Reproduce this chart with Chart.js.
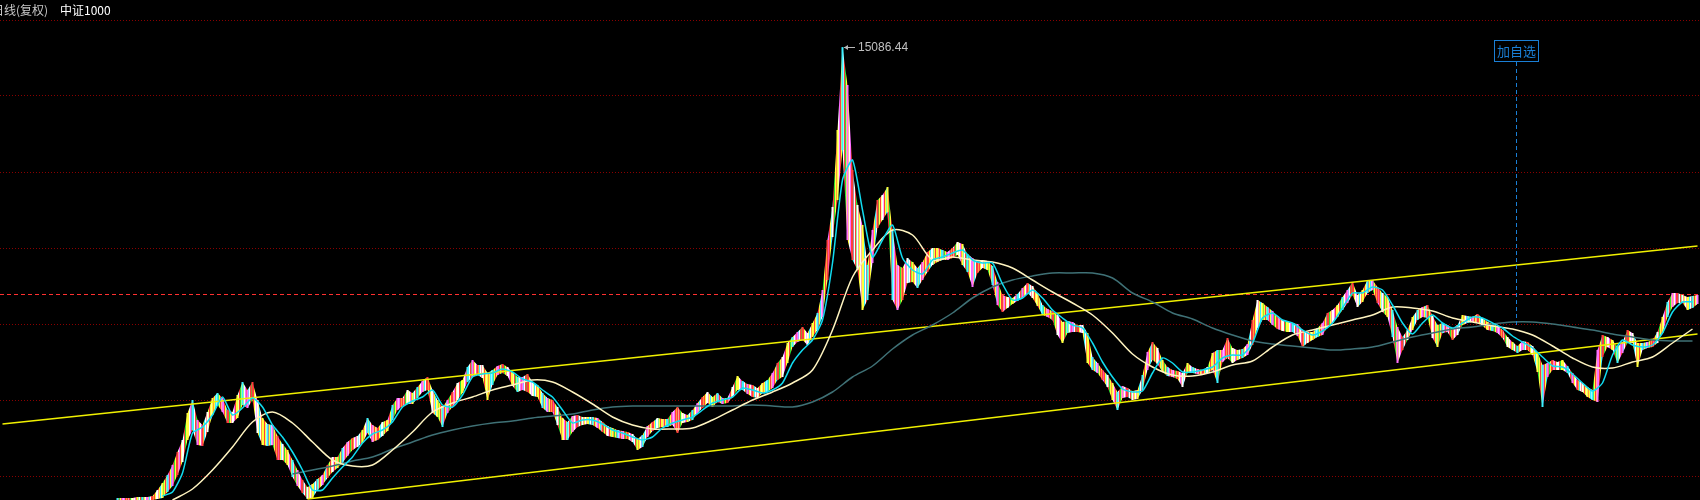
<!DOCTYPE html>
<html>
<head>
<meta charset="utf-8">
<script src="https://cdn.jsdelivr.net/npm/chart.js@4.4.0/dist/chart.umd.min.js"></script>
<style>
    html, body { margin: 0; padding: 0; background: #000; overflow: hidden; }
    .chart-container { position: relative; width: 1700px; height: 500px; }
</style>
</head>
<body>
<div class="chart-container"><canvas id="klineChart"></canvas></div>
<script>
(function() {
    // one slot = one sampled period on the daily chart
    const SLOTS = 340;
    const periods = Array.from({ length: SLOTS }, (_, i) => 'P' + (i + 1));

    // high / low of each sampled period, from slot 23 on
    const bandStart = 23;
    const highs = [
        1560, 1560, 1560, 1560, 1590, 1590, 1590, 1620, 1800, 2010,
        2250, 2550, 2940, 3300, 4110, 4500, 3900, 3750, 4140, 4560,
        4710, 4560, 4200, 4140, 4650, 5040, 4800, 5040, 4500, 3960,
        3780, 3750, 3420, 3180, 3000, 2700, 2400, 2100, 1890, 1980,
        2130, 2250, 2550, 2790, 2790, 3060, 3240, 3360, 3420, 3600,
        3960, 3750, 3660, 3840, 3900, 4350, 4560, 4560, 4800, 4710,
        4890, 5070, 5190, 4800, 4500, 4290, 4500, 4740, 5010, 5100,
        5490, 5700, 5550, 5550, 5310, 5400, 5520, 5580, 5490, 5340,
        5190, 5190, 5280, 5040, 4950, 4710, 4560, 4500, 4290, 3960,
        3840, 4020, 4050, 3990, 3990, 3990, 3960, 3840, 3720, 3660,
        3600, 3570, 3540, 3480, 3330, 3450, 3720, 3840, 3960, 3930,
        3930, 4140, 4290, 4110, 4050, 4200, 4410, 4590, 4740, 4590,
        4710, 4560, 4560, 4890, 5220, 5070, 4980, 4950, 4860, 5010,
        5100, 5310, 5610, 5790, 6210, 6390, 6540, 6690, 6510, 6810,
        7110, 7800, 9300, 10290, 12600, 15086.44, 13950, 11400, 10350, 9750,
        8550, 9600, 10500, 10650, 10890, 9600, 8550, 8460, 8760, 8640,
        8460, 8640, 8940, 9060, 9060, 9000, 8940, 9060, 9240, 9180,
        8880, 8760, 8640, 8700, 8670, 8520, 8040, 7650, 7590, 7560,
        7680, 7860, 8010, 7920, 7710, 7350, 7230, 7170, 7050, 6840,
        6870, 6840, 6750, 6750, 6510, 5790, 5610, 5400, 5250, 5010,
        4740, 4920, 4860, 4770, 4800, 5250, 5940, 6240, 6060, 5700,
        5490, 5400, 5370, 5310, 5610, 5490, 5430, 5400, 5490, 5910,
        6000, 6000, 6360, 6060, 6000, 6030, 6180, 6900, 7500, 7410,
        7290, 7170, 7020, 6900, 6840, 6810, 6780, 6600, 6540, 6540,
        6660, 6810, 7110, 7200, 7350, 7590, 7800, 8040, 7650, 7800,
        8100, 8100, 7890, 7710, 7590, 7200, 6690, 6390, 6600, 6990,
        7200, 7290, 7350, 7020, 6750, 6810, 6750, 6630, 6750, 7050,
        7020, 6990, 7080, 6960, 6840, 6780, 6720, 6600, 6390, 6240,
        6120, 6270, 6240, 6120, 5940, 5550, 5610, 5700, 5640, 5700,
        5520, 5310, 5100, 5010, 4890, 4800, 6000, 6450, 6390, 6300,
        6090, 6240, 6600, 6510, 6210, 6210, 6240, 6300, 6540, 6990,
        7440, 7710, 7710, 7650, 7590, 7620, 7650
    ];
    const lows = [
        1500, 1500, 1500, 1500, 1500, 1500, 1500, 1500, 1530, 1560,
        1740, 1920, 2250, 2640, 3300, 3600, 3150, 3120, 3540, 4050,
        4350, 4140, 3810, 3810, 3960, 4350, 4260, 4500, 3510, 3150,
        3120, 3150, 2700, 2700, 2550, 2190, 1920, 1710, 1530, 1560,
        1800, 1950, 2160, 2340, 2460, 2610, 2820, 3000, 3090, 3210,
        3510, 3240, 3300, 3420, 3570, 3900, 4200, 4320, 4380, 4380,
        4560, 4740, 4800, 4110, 3990, 3690, 4110, 4290, 4500, 4710,
        5040, 5190, 5250, 5160, 4500, 4950, 5250, 5310, 5220, 4920,
        4740, 4800, 4740, 4620, 4590, 4260, 4140, 4140, 3750, 3300,
        3300, 3540, 3690, 3750, 3780, 3750, 3660, 3540, 3420, 3390,
        3360, 3330, 3330, 3240, 3000, 3090, 3390, 3570, 3660, 3690,
        3690, 3750, 3510, 3810, 3840, 3900, 4110, 4260, 4410, 4290,
        4440, 4380, 4410, 4590, 4800, 4800, 4680, 4590, 4560, 4710,
        4740, 4860, 5100, 5190, 5610, 6090, 6240, 6300, 6150, 6390,
        6600, 6990, 8100, 9390, 10500, 12000, 9300, 8700, 8400, 7200,
        7500, 8610, 9660, 9900, 10140, 7500, 7200, 7500, 8010, 8040,
        7860, 8100, 8340, 8550, 8640, 8700, 8700, 8760, 8850, 8550,
        8340, 7890, 8310, 8460, 8400, 7950, 7350, 7140, 7260, 7380,
        7470, 7560, 7710, 7560, 7320, 7050, 6990, 6900, 6450, 6210,
        6510, 6540, 6540, 6510, 5610, 5400, 5310, 5100, 4890, 4500,
        4200, 4560, 4590, 4500, 4530, 4800, 5400, 5700, 5580, 5340,
        5220, 5190, 5130, 4890, 5310, 5310, 5280, 5250, 5310, 5400,
        5010, 5640, 5760, 5610, 5700, 5760, 5850, 6150, 6660, 6900,
        6900, 6750, 6630, 6570, 6540, 6540, 6420, 6090, 6210, 6300,
        6390, 6450, 6690, 6810, 6990, 7200, 7410, 7650, 7290, 7440,
        7710, 7800, 7410, 7140, 6990, 6390, 5610, 6000, 6300, 6600,
        6900, 6990, 6960, 6360, 6090, 6510, 6540, 6300, 6450, 6750,
        6810, 6840, 6840, 6720, 6600, 6570, 6510, 6360, 6090, 6000,
        5910, 6000, 6000, 5850, 5340, 4290, 5190, 5400, 5400, 5400,
        5310, 5010, 4800, 4740, 4590, 4500, 4440, 5790, 6090, 6000,
        5610, 5910, 6210, 6210, 5490, 6000, 6060, 6090, 6210, 6510,
        6990, 7290, 7410, 7410, 7200, 7260, 7380
    ];

    // cyan moving average, read every 2 slots from slot 32
    const maShortStart = 32;
    const maShort = [
        1620, 1740, 2310, 3510, 3690, 4050, 4590, 4050, 4260, 4560,
        4290, 3750, 3390, 2940, 2400, 1800, 1800, 2160, 2490, 2790,
        3210, 3480, 3600, 3840, 4290, 4470, 4590, 4800, 4350, 4290,
        4650, 5190, 5280, 5310, 5430, 5340, 5130, 5040, 4800, 4590,
        4200, 3810, 3900, 3900, 3780, 3600, 3510, 3390, 3300, 3390,
        3660, 3810, 3900, 3990, 4200, 4410, 4500, 4590, 4860, 4800,
        4710, 4800, 5010, 5610, 6000, 6300, 6900, 8610, 11100, 11700,
        10200, 8790, 9300, 9750, 8760, 8400, 8280, 8700, 8790, 8910,
        9000, 8700, 8610, 8610, 7980, 7500, 7560, 7800, 7560, 7200,
        6960, 6750, 6660, 6210, 5640, 5190, 4830, 4740, 4770, 5310,
        5760, 5610, 5340, 5340, 5400, 5490, 5760, 5850, 5850, 6210,
        6960, 7110, 6900, 6810, 6600, 6450, 6570, 6810, 7260, 7710,
        7710, 7890, 7800, 7350, 6810, 6480, 6810, 7050, 6810, 6660,
        6810, 6990, 6960, 6810, 6660, 6420, 6240, 6060, 5790, 5520,
        5490, 5280, 5010, 4770, 5010, 5850, 6300, 6150, 6090, 6150,
        6510, 7140, 7440, 7440
    ];

    // long averages, read every 4 slots from slot 34
    const maLongStart = 34;
    const maMid = [
        1500, 1830, 2400, 3090, 3840, 4140, 3810, 3240, 2700, 2520,
        2550, 3000, 3540, 4140, 4410, 4590, 4800, 4950, 5100, 5040,
        4740, 4380, 3990, 3750, 3630, 3630, 3660, 3900, 4200, 4500,
        4740, 5010, 5400, 6600, 8190, 9000, 9600, 9450, 8700, 8790,
        8700, 8640, 8460, 8100, 7740, 7410, 7050, 6510, 5880, 5490,
        5250, 5220, 5340, 5550, 5670, 6090, 6450, 6600, 6750, 6900,
        7050, 7290, 7260, 7170, 6960, 6840, 6720, 6630, 6450, 6120,
        5760, 5490, 5460, 5640, 5790, 6210, 6630
    ];
    const maLong = [
        null, null, null, null, null, null, 2280, 2400, 2520, 2670,
        2790, 3030, 3240, 3450, 3600, 3720, 3810, 3870, 3960, 4020,
        4080, 4200, 4290, 4320, 4320, 4320, 4320, 4320, 4320, 4350,
        4320, 4290, 4440, 4740, 5190, 5520, 6030, 6450, 6750, 7110,
        7560, 7890, 8100, 8220, 8310, 8310, 8310, 8160, 7710, 7440,
        7110, 6930, 6660, 6450, 6270, 6180, 6120, 6060, 6000, 6030,
        6090, 6240, 6390, 6510, 6630, 6690, 6780, 6840, 6840, 6780,
        6690, 6600, 6480, 6390, 6300, 6270, 6270
    ];

    // trend channel: [first slot, last slot] and the values there
    const channelSlots = [[0, 339], [61, 339]];
    const channelValues = [[3780, 9120], [1530, 6480]];

    const gridLevels = [15900, 13620, 11340, 9060, 6780, 4500, 2220];
    const lastPrice = 7680;
    const watchSlot = 303;
    const watchPrice = 6750;
    const titleParts = ['日线(复权)', '中证1000'];

    const bandColors = ['#ff3c3c', '#ffff3c', '#ffffff', '#ff6eff', '#ff3c3c', '#ffff3c', '#3cf0ff', '#ffffff', '#ff3c3c', '#30e030', '#ffff3c'];
    const wickColors = ['#ff3c3c', '#ffffff', '#ffff3c', '#3cf0ff', '#ff6eff'];

    function spread(values, start, step) {
        const out = new Array(SLOTS).fill(null);
        values.forEach((v, k) => {
            if (v !== null) out[start + k * step] = v;
        });
        return out;
    }

    function stripePattern(ctx) {
        const c = document.createElement('canvas');
        c.width = bandColors.length;
        c.height = 1;
        const g = c.getContext('2d');
        bandColors.forEach((col, i) => {
            g.fillStyle = col;
            g.fillRect(i, 0, 1, 1);
        });
        return ctx.createPattern(c, 'repeat');
    }

    function lineSet(data, color, width, tension) {
        return {
            type: 'line',
            data: data,
            borderColor: color,
            borderWidth: width,
            pointRadius: 0,
            spanGaps: true,
            tension: tension,
            fill: false,
            order: 1
        };
    }

    const overlay = {
        id: 'overlay',
        beforeDatasetsDraw(chart) {
            const { ctx, scales: { y } } = chart;
            const ly = Math.round(y.getPixelForValue(lastPrice)) + 0.5;
            ctx.save();
            ctx.strokeStyle = '#ff3030';
            ctx.lineWidth = 1;
            ctx.setLineDash([4, 3]);
            ctx.beginPath();
            ctx.moveTo(0, ly);
            ctx.lineTo(chart.width, ly);
            ctx.stroke();
            ctx.restore();
        },
        afterDatasetsDraw(chart) {
            const { ctx, scales: { x, y } } = chart;
            ctx.save();

            // title
            ctx.textBaseline = 'middle';
            ctx.font = '12px "Noto Sans CJK SC", sans-serif';
            ctx.fillStyle = '#c8c8c8';
            ctx.fillText(titleParts[0], -8, 10);
            ctx.fillStyle = '#ffffff';
            ctx.fillText(titleParts[1], 60, 10);

            // highest point marker
            let top = 0;
            highs.forEach((h, k) => { if (h > highs[top]) top = k; });
            const px = Math.round(x.getPixelForValue(bandStart + top));
            const py = Math.round(y.getPixelForValue(highs[top])) + 0.5;
            ctx.strokeStyle = '#b8b8b8';
            ctx.fillStyle = '#b8b8b8';
            ctx.lineWidth = 1;
            ctx.beginPath();
            ctx.moveTo(px + 1, py);
            ctx.lineTo(px + 12, py);
            ctx.stroke();
            ctx.beginPath();
            ctx.moveTo(px + 1, py);
            ctx.lineTo(px + 5, py - 2.5);
            ctx.lineTo(px + 5, py + 2.5);
            ctx.closePath();
            ctx.fill();
            ctx.font = '12px "Liberation Sans", Arial, sans-serif';
            ctx.fillStyle = '#c0c0c0';
            ctx.fillText(highs[top].toFixed(2), px + 15, py);

            // watch-list marker
            const wx = Math.round(x.getPixelForValue(watchSlot)) - 2 + 0.5;
            const wy = y.getPixelForValue(watchPrice);
            ctx.strokeStyle = '#1a7fd6';
            ctx.setLineDash([4, 3]);
            ctx.beginPath();
            ctx.moveTo(wx, 62);
            ctx.lineTo(wx, wy);
            ctx.stroke();
            ctx.setLineDash([]);
            ctx.strokeRect(wx - 22, 40.5, 44, 21);
            ctx.font = '13px "Noto Sans CJK SC", sans-serif';
            ctx.fillStyle = '#1a7fd6';
            ctx.textAlign = 'center';
            ctx.fillText('加自选', wx, 51);
            ctx.restore();
        }
    };

    function createChart() {
        const ctx = document.getElementById('klineChart').getContext('2d');
        const pattern = stripePattern(ctx);
        const band = spread(highs.map((h, k) => [lows[k], h]), bandStart, 1);

        const datasets = [
            // upper edge of the price band, filled down to the lower edge
            {
                type: 'line',
                data: spread(highs, bandStart, 1),
                borderWidth: 0,
                borderColor: 'rgba(0,0,0,0)',
                backgroundColor: pattern,
                pointRadius: 0,
                tension: 0,
                fill: '+1',
                order: 6
            },
            {
                type: 'line',
                data: spread(lows, bandStart, 1),
                borderWidth: 0,
                borderColor: 'rgba(0,0,0,0)',
                pointRadius: 0,
                tension: 0,
                fill: false,
                order: 6
            },
            // high-low wicks
            {
                type: 'bar',
                data: band,
                backgroundColor: band.map((_, i) => wickColors[i % wickColors.length]),
                borderWidth: 0,
                barPercentage: 0.4,
                categoryPercentage: 1,
                order: 5
            },
            lineSet(spread(maShort, maShortStart, 2), '#10dcf0', 1.5, 0.2),
            lineSet(spread(maMid, maLongStart, 4), '#fff4c0', 1.5, 0.3),
            lineSet(spread(maLong, maLongStart, 4), '#3f7176', 1.5, 0.3)
        ];

        channelSlots.forEach((slots, k) => {
            const data = new Array(SLOTS).fill(null);
            data[slots[0]] = channelValues[k][0];
            data[slots[1]] = channelValues[k][1];
            datasets.push(lineSet(data, '#f0f000', 1.5, 0));
        });

        new Chart(ctx, {
            type: 'bar',
            data: { labels: periods, datasets },
            options: {
                responsive: true,
                maintainAspectRatio: false,
                animation: false,
                events: [],
                layout: { padding: 0, autoPadding: false },
                plugins: { legend: { display: false }, tooltip: { enabled: false } },
                scales: {
                    x: { display: false, grid: { display: false } },
                    y: {
                        min: 1500,
                        max: 16500,
                        afterFit: scale => { scale.width = 0; },
                        afterBuildTicks: scale => {
                            scale.ticks = gridLevels.map(v => ({ value: v }));
                        },
                        ticks: { display: false },
                        grid: { color: '#8a0000', lineWidth: 1, drawTicks: false },
                        border: { display: false, dash: [1, 2] }
                    }
                }
            },
            plugins: [overlay]
        });
    }

    createChart();
})();
</script>
</body>
</html>
